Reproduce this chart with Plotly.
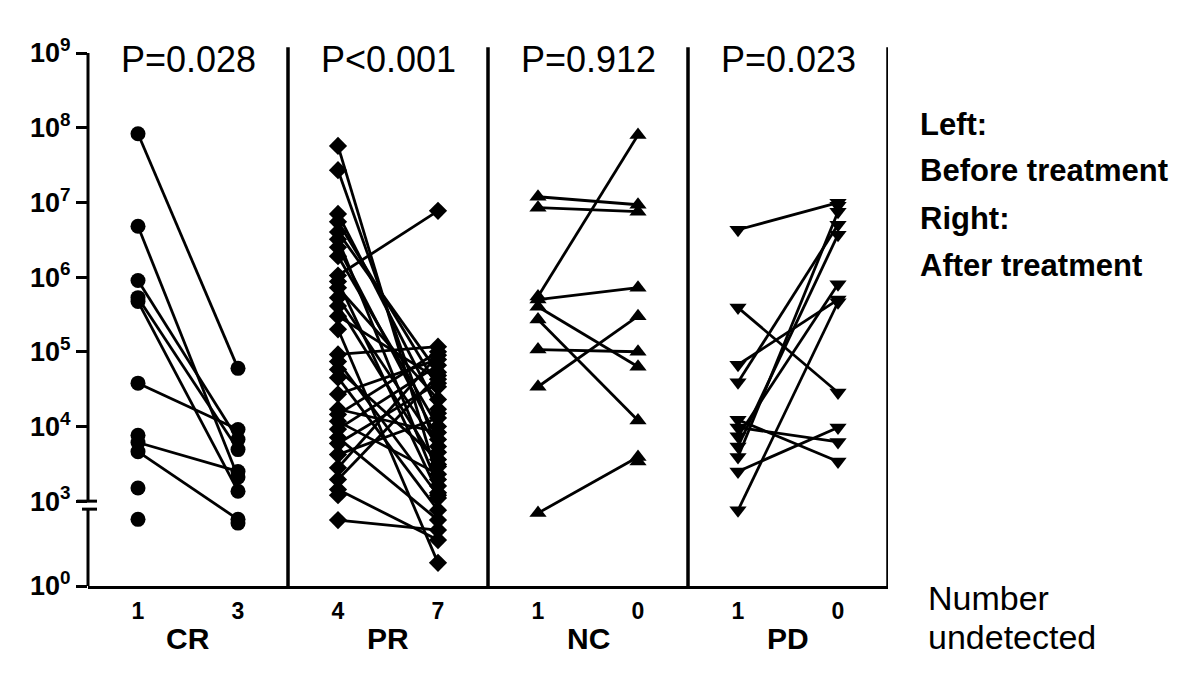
import math
import plotly.graph_objects as go

# Viral load per patient, before and after treatment (None = undetected, not plotted)
cr_before = [8.3e7, 4.8e6, 9.0e5, 5.3e5, 4.7e5, 3.8e4, 6.1e3, 4.6e3, 7.6e3, 1.5e3, 400, None]
cr_after = [6.0e4, 2.1e3, 6.7e3, 4.9e3, 1.36e3, 9.1e3, 2.5e3, 400, None, None, None, 285]

pr_before = [5.7e7, 2.7e7, 7.0e6, 5.5e6, 4.0e6, 3.2e6, 2.5e6, 1.9e6, 1.05e6, 8.7e5, 7.2e5, 5.3e5,
             4.1e5, 3.0e5, 2.0e5, 9.2e4, 7.4e4, 5.8e4, 4.5e4, 2.7e4, 1.7e4, 1.45e4, 1.17e4, 9.2e3,
             7.1e3, 5.9e3, 4.2e3, 2.8e3, 1.95e3, 1.43e3, 1.2e3, 375, None, None, None]
pr_after = [1.95e3, 4.5e3, 1.7e4, 3.4e4, 5.3e4, 1.6e3, 6.7e3, 1.0e4, 7.7e6, 1.3e3, 2.3e4, 5.4e3,
            2.9e3, 4.3e4, 8, 1.17e5, 1.2e3, 3.6e3, 910, 7.9e4, 8.3e3, 1.0e5, 2.3e3, 6.6e4,
            375, 3.8e4, 1.3e4, 9.0e4, 4.8e4, 62, None, 152, 1.5e4, 3.1e3, 1.1e3]

nc_before = [1.19e7, 8.5e6, 5.5e5, 5.0e5, 4.0e5, 2.7e5, 1.07e5, 3.4e4, 700, None]
nc_after = [9.3e6, 7.5e6, 8.0e7, 7.2e5, 6.3e4, 1.2e4, 1.0e5, 3.0e5, 3.9e3, 3.4e3]

pd_before = [4.3e6, 3.9e5, 6.7e4, 3.9e4, 1.23e4, 9.7e3, 7.4e3, 5.4e3, 3.9e3, 2.5e3, 900, None]
pd_after = [9.9e6, 2.85e4, 5.0e5, 5.0e6, 3.4e3, 6.2e3, 8.0e5, 3.7e6, 7.5e6, 9.7e3, 4.6e5, 9.0e6]

groups = ["CR", "PR", "NC", "PD"]
p_values = ["P=0.028", "P<0.001", "P=0.912", "P=0.023"]
undetected = [("1", "3"), ("4", "7"), ("1", "0"), ("1", "0")]
symbols = ["circle", "diamond", "triangle-up", "triangle-down"]
marker_sizes = [15, 14, 15, 15]
series = [(cr_before, cr_after), (pr_before, pr_after), (nc_before, nc_after), (pd_before, pd_after)]

y_exponents = [0, 3, 4, 5, 6, 7, 8, 9]

# broken log axis: 10^3..10^9 full decades, 10^0..10^3 squeezed below the break
LOW_BOTTOM = 1.864
LOW_TOP = 2.893


def axis_pos(v):
    if v is None:
        return None
    lv = math.log10(v)
    if v >= 1000:
        return lv
    return LOW_BOTTOM + lv * (LOW_TOP - LOW_BOTTOM) / 3


fig = go.Figure()

for i, (before, after) in enumerate(series):
    xs, ys = [], []
    for b, a in zip(before, after):
        xs += [i + 0.25, i + 0.75, None]
        ys += [axis_pos(b), axis_pos(a), None]
    fig.add_trace(go.Scatter(
        x=xs, y=ys, mode="lines+markers", connectgaps=False,
        line=dict(color="black", width=2.8),
        marker=dict(symbol=symbols[i], size=marker_sizes[i], color="black"),
        name=groups[i], cliponaxis=False,
    ))

tick_x, tick_text = [], []
for i, (l, r) in enumerate(undetected):
    tick_x += [i + 0.25, i + 0.75]
    tick_text += [f"<b>{l}</b>", f"<b>{r}</b>"]

# page body adds an 8px offset, so the figure is slightly smaller than the window
fig.update_layout(
    width=1184, height=678,
    margin=dict(l=80, r=304, t=45, b=100),
    plot_bgcolor="white", paper_bgcolor="white",
    showlegend=False,
    font=dict(family="Liberation Sans, Arial", color="black"),
)

fig.update_xaxes(
    range=[0, 4], showgrid=False, zeroline=False,
    showline=True, linewidth=3, linecolor="black",
    tickvals=tick_x, ticktext=tick_text, ticks="",
    tickfont=dict(size=23), ticklabelstandoff=2,
)
fig.update_yaxes(
    range=[LOW_BOTTOM, 9], showgrid=False, zeroline=False, showline=False,
    tickvals=[axis_pos(10 ** k) for k in y_exponents],
    ticktext=[f"<b>10<sup>{k}</sup></b>" for k in y_exponents],
    ticks="outside", ticklen=11, tickwidth=3, tickcolor="black",
    tickfont=dict(size=27),
)

# y axis line with break
line = dict(color="black", width=3)
fig.add_shape(type="line", xref="paper", yref="y", x0=0, x1=0, y0=9, y1=3, line=line)
fig.add_shape(type="line", xref="paper", yref="y", x0=0, x1=0, y0=LOW_TOP, y1=LOW_BOTTOM, line=line)
fig.add_shape(type="line", xref="paper", yref="y", x0=-11 / 800, x1=9 / 800, y0=3, y1=3, line=line)
fig.add_shape(type="line", xref="paper", yref="y", x0=-6 / 800, x1=9 / 800, y0=LOW_TOP, y1=LOW_TOP, line=line)

# panel separators
for i in range(1, 5):
    fig.add_shape(type="line", xref="x", yref="paper", x0=i, x1=i, y0=0, y1=1.011,
                  line=dict(color="black", width=3.5))

for i, g in enumerate(groups):
    fig.add_annotation(x=i + 0.5, y=0.987, xref="x", yref="paper", text=p_values[i],
                       yanchor="middle", showarrow=False, font=dict(size=36))
    fig.add_annotation(x=i + 0.5, y=-0.0976, xref="x", yref="paper", text=f"<b>{g}</b>",
                       yanchor="middle", showarrow=False, font=dict(size=30))

legend_lines = [("Left:", 0.865), ("Before treatment", 0.780), ("Right:", 0.690), ("After treatment", 0.602)]
for txt, yy in legend_lines:
    fig.add_annotation(x=1.037, y=yy, xref="paper", yref="paper", text=f"<b>{txt}</b>",
                       xanchor="left", yanchor="middle", showarrow=False, font=dict(size=31))

for txt, yy in [("Number", -0.0225), ("undetected", -0.0957)]:
    fig.add_annotation(x=1.047, y=yy, xref="paper", yref="paper", text=txt,
                       xanchor="left", yanchor="middle", showarrow=False, font=dict(size=34))

fig.write_html("out.html")
